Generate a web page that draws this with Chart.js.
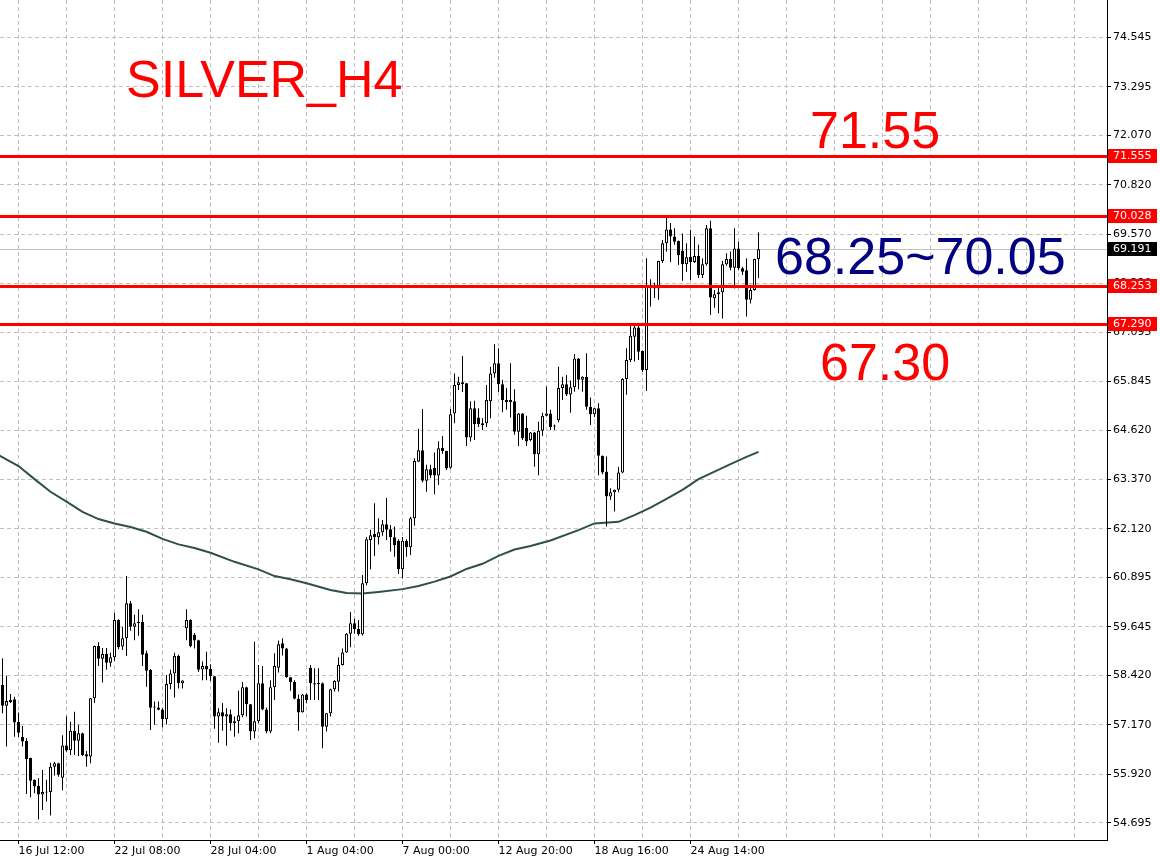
<!DOCTYPE html>
<html lang="en">
<head>
<meta charset="UTF-8">
<title>SILVER_H4</title>
<script src="https://cdn.jsdelivr.net/npm/chart.js"></script>
<style>
  html, body { margin: 0; padding: 0; background: #fff; }
  #wrap { width: 1160px; height: 861px; }
</style>
</head>
<body>
<div id="wrap"><canvas id="chart" width="1160" height="861"></canvas></div>
<script>
// H4 candles (one per bar, oldest first)
const open = [58.18,57.65,57.80,57.82,57.24,56.86,56.76,56.33,55.78,55.63,55.41,55.47,55.47,56.11,56.20,55.83,56.65,56.53,57.02,56.77,
  56.96,56.43,56.37,57.84,59.16,58.84,58.96,58.74,58.88,59.82,59.15,59.36,60.24,59.65,59.77,59.77,58.98,58.56,57.61,57.61,
  57.56,57.31,58.20,58.47,58.91,58.22,59.61,59.82,59.44,59.31,58.57,58.66,58.58,58.40,57.38,57.49,57.38,57.44,57.21,57.26,
  57.41,58.12,57.69,57.00,57.26,58.22,57.56,57.00,58.12,58.61,59.23,59.10,58.37,58.25,57.83,57.49,57.94,58.61,58.22,58.21,
  58.22,57.12,57.46,58.07,58.26,58.68,59.00,59.47,59.74,59.59,59.46,60.75,61.84,61.99,61.91,62.04,62.24,62.11,61.91,61.82,
  61.10,61.82,61.66,62.39,63.82,64.11,63.34,63.63,63.67,63.47,64.17,64.09,63.67,65.04,65.76,65.83,65.80,64.43,65.17,64.94,
  64.79,64.79,65.35,66.05,66.31,65.78,65.38,65.32,65.35,64.58,65.04,64.67,64.37,64.56,64.01,64.60,64.98,65.04,64.72,64.87,
  65.68,65.78,65.52,65.70,66.43,65.89,65.97,65.21,65.02,65.17,63.97,63.57,62.94,63.05,63.11,63.55,65.91,66.39,66.98,67.21,
  66.62,66.14,68.26,68.26,68.20,68.89,69.34,69.69,69.51,69.40,69.15,68.81,69.00,68.87,69.02,68.54,68.81,69.72,67.95,68.05,
  68.10,68.81,68.94,68.72,69.21,68.71,68.66,67.91,68.16,68.94];
const high = [58.85,58.41,57.95,57.88,57.48,57.14,56.83,56.34,55.79,55.82,56.03,55.78,56.21,56.24,56.21,56.91,57.39,57.25,57.50,57.17,
  56.97,56.51,57.85,59.17,59.26,59.11,59.11,58.99,60.00,59.84,59.64,60.93,60.30,59.95,60.09,59.95,59.04,58.58,57.76,57.76,
  57.59,58.43,58.56,58.99,58.94,58.30,60.09,59.84,59.49,59.32,58.77,59.02,58.70,58.41,57.59,57.72,57.59,57.56,57.38,58.03,
  58.25,58.13,57.70,59.27,58.68,58.66,57.61,58.30,58.98,59.30,59.36,59.11,58.38,58.30,57.94,57.95,57.97,58.68,58.60,58.60,
  58.24,57.47,58.08,58.30,58.88,59.10,59.49,60.02,59.86,59.82,60.96,61.92,62.10,62.77,62.39,62.35,62.90,62.22,62.18,61.86,
  61.92,61.86,62.43,63.91,64.65,65.15,63.74,63.74,64.05,64.34,64.47,64.10,65.15,66.05,65.97,66.49,65.81,65.35,65.36,65.17,
  64.92,65.76,66.22,66.79,66.69,65.89,65.68,66.31,65.65,65.05,65.05,64.98,64.57,64.57,64.83,65.06,65.72,65.13,64.76,66.22,
  65.97,66.01,65.87,66.54,66.44,65.98,66.56,65.44,65.18,65.30,63.98,63.95,63.15,63.12,63.69,65.93,66.69,67.25,67.27,67.27,
  66.63,68.96,68.43,68.34,68.90,69.42,70.01,69.85,69.72,69.41,69.59,69.34,69.68,69.51,69.30,68.96,69.80,69.91,68.16,68.24,
  68.89,69.09,69.13,69.72,69.38,68.75,68.96,68.29,68.95,69.62];
const low = [57.46,56.62,57.72,56.87,56.86,56.62,55.42,55.34,55.44,54.78,55.02,55.23,54.88,55.89,55.86,55.52,56.49,56.41,56.41,56.38,
  56.38,56.11,56.20,57.72,58.66,58.24,58.56,58.64,58.79,59.08,59.06,58.91,59.55,59.31,59.42,58.66,58.13,57.04,57.17,57.54,
  57.10,57.18,58.07,57.86,58.09,58.09,59.31,59.13,59.10,58.51,58.30,58.30,58.28,57.07,56.72,57.02,56.64,57.02,56.87,56.96,
  57.36,57.38,56.79,56.83,57.21,57.54,56.96,56.96,57.80,58.49,58.92,58.36,58.03,57.82,57.02,57.48,57.72,57.80,57.80,57.80,
  56.58,57.00,57.38,58.01,58.01,58.67,58.99,59.13,59.48,59.42,59.42,60.70,61.10,61.44,61.73,61.95,61.84,61.55,61.42,60.98,
  60.87,61.42,61.46,62.20,63.81,63.30,63.06,63.41,63.00,63.23,64.02,63.61,63.64,64.79,65.63,65.58,64.22,64.33,64.37,64.70,
  64.62,64.70,64.92,65.94,65.58,65.07,65.13,64.94,64.50,64.22,64.37,64.22,64.34,63.69,63.48,64.47,64.97,64.62,64.62,64.82,
  65.38,65.48,65.06,65.59,65.65,65.59,65.13,64.75,64.95,63.48,63.50,62.18,62.85,62.56,63.05,63.53,65.51,66.34,66.35,66.39,
  66.09,65.61,67.74,67.96,67.91,68.84,69.13,68.87,69.30,68.79,68.39,68.62,68.41,68.84,68.46,68.46,68.77,67.53,67.71,67.57,
  67.44,68.77,68.66,68.20,68.66,68.54,67.49,67.82,68.14,68.46];
const close = [57.65,57.77,57.74,57.23,56.97,56.75,56.30,55.76,55.61,55.41,55.47,55.46,56.11,56.20,55.91,56.65,56.52,57.02,56.77,56.96,
  56.41,56.37,57.84,59.16,58.84,58.96,58.74,58.88,59.82,59.13,59.36,60.24,59.65,59.74,59.74,58.94,58.54,57.60,57.61,57.55,
  57.31,58.20,58.47,58.91,58.22,58.29,59.82,59.16,59.30,58.56,58.66,58.57,58.40,57.38,57.49,57.38,57.44,57.21,57.26,57.41,
  58.12,57.69,57.00,57.26,58.22,57.56,57.00,58.12,58.66,59.21,59.10,58.37,58.25,57.83,57.48,57.94,57.80,58.22,58.19,58.20,
  57.12,57.46,58.07,58.28,58.68,59.00,59.47,59.74,59.59,59.46,60.75,61.86,61.96,61.91,62.04,62.24,62.10,61.91,61.71,61.10,
  61.82,61.66,62.39,63.84,64.11,63.34,63.63,63.47,63.47,64.16,64.09,63.65,65.02,65.76,65.83,65.78,64.43,65.17,64.77,64.77,
  64.75,65.38,66.05,66.31,65.78,65.38,65.33,65.38,64.58,65.04,64.41,64.33,64.56,64.01,64.60,64.98,65.04,64.70,64.71,65.68,
  65.78,65.52,65.70,66.43,65.89,65.97,65.21,65.02,65.17,63.97,63.55,62.94,63.05,63.11,63.55,65.91,66.39,67.00,67.21,66.60,
  66.14,68.26,68.22,68.20,68.89,69.34,69.69,69.51,69.38,69.04,68.81,68.99,68.87,69.02,68.54,68.81,69.72,67.97,68.05,68.10,
  68.81,68.94,68.72,69.21,68.71,68.62,67.91,68.16,68.94,69.19];

// moving average, sampled along the drawn curve (bar index -> price)
const maIdx = [-1,4,8,12,16,20,24,28,32,36,40,44,48,52,58,64,68,72,76,82,86,90,94,100,104,108,112,116,120,124,128,132,137,144,148,154,158,162,166,170,174,178,182,186,189];
const maVal = [63.99,63.71,63.38,63.06,62.81,62.55,62.37,62.26,62.17,62.05,61.87,61.73,61.64,61.52,61.29,61.10,60.93,60.85,60.75,60.58,60.50,60.49,60.53,60.60,60.68,60.79,60.92,61.11,61.24,61.44,61.60,61.69,61.83,62.09,62.26,62.30,62.47,62.66,62.88,63.11,63.38,63.57,63.76,63.94,64.07];

// axes
const xGridIdx = [4,16,28,40,52,64,76,88,100,112,124,136,148,160,172,184,196,208,220,232,244,256,268];
const xLabelIdx = [4,28,52,76,100,124,148,172];
const xLabels = ['16 Jul 12:00','22 Jul 08:00','28 Jul 04:00','1 Aug 04:00','7 Aug 00:00','12 Aug 20:00','18 Aug 16:00','24 Aug 14:00'];
const yTicks = [74.545,73.295,72.070,70.820,69.570,68.320,67.095,65.845,64.620,63.370,62.120,60.895,59.645,58.420,57.170,55.920,54.695];

// horizontal levels
const levels = [71.555, 70.028, 68.253, 67.290];
const lastPrice = 69.191;

const idx = open.map((_, i) => i);
const up = idx.map(i => close[i] >= open[i]);
const axisFont = { family: 'DejaVu Sans', size: 11 };
const bigFont = '52px "Liberation Sans", Arial, sans-serif';

const overlay = {
  id: 'overlay',
  beforeDatasetsDraw(chart) {
    const { ctx, chartArea: a, scales: { y } } = chart;
    const py = Math.round(y.getPixelForValue(lastPrice)) + 0.5;
    ctx.save();
    ctx.strokeStyle = '#c0c0c0';
    ctx.lineWidth = 1;
    ctx.beginPath();
    ctx.moveTo(a.left, py);
    ctx.lineTo(a.right, py);
    ctx.stroke();
    ctx.restore();
  },
  afterDatasetsDraw(chart) {
    const { ctx, chartArea: a, scales: { y } } = chart;
    ctx.save();
    ctx.fillStyle = '#ff0000';
    levels.forEach(v => {
      const py = Math.round(y.getPixelForValue(v));
      ctx.fillRect(a.left, py - 1, a.right - a.left, 3);
    });
    ctx.font = bigFont;
    ctx.textAlign = 'left';
    ctx.textBaseline = 'alphabetic';
    ctx.fillText('SILVER_H4', 126, 97);
    ctx.fillText('71.55', 810, 148);
    ctx.fillText('67.30', 820, 380);
    ctx.fillStyle = '#000080';
    ctx.fillText('68.25~70.05', 775, 274);
    ctx.restore();
  },
  afterDraw(chart) {
    const { ctx, chartArea: a, scales: { y } } = chart;
    ctx.save();
    ctx.font = '11px "DejaVu Sans"';
    ctx.textAlign = 'left';
    ctx.textBaseline = 'middle';
    const box = (v, bg) => {
      const py = Math.round(y.getPixelForValue(v));
      ctx.fillStyle = bg;
      ctx.fillRect(a.right + 1, py - 7, 49, 14);
      ctx.fillStyle = '#fff';
      ctx.fillText(v.toFixed(3), a.right + 6, py + 0.5);
    };
    levels.forEach(v => box(v, '#ff0000'));
    box(lastPrice, '#000');
    ctx.restore();
  }
};

new Chart(document.getElementById('chart'), {
  type: 'bar',
  data: {
    datasets: [
      {
        type: 'line',
        label: 'MA',
        data: maIdx.map((x, k) => ({ x, y: maVal[k] })),
        borderColor: '#2f4f4f',
        borderWidth: 2,
        pointRadius: 0,
        tension: 0,
        order: 3
      },
      {
        label: 'wick',
        data: idx.map(i => ({ x: i, y: [low[i], high[i]] })),
        backgroundColor: '#000',
        barThickness: 1,
        inflateAmount: 0,
        grouped: false,
        order: 2
      },
      {
        label: 'body',
        data: idx.map(i => ({ x: i, y: [open[i], close[i]] })),
        backgroundColor: up.map(u => u ? '#fff' : '#000'),
        borderColor: '#000',
        borderWidth: 1,
        borderSkipped: false,
        barThickness: 3,
        minBarLength: 1,
        inflateAmount: 0,
        grouped: false,
        order: 1
      }
    ]
  },
  options: {
    responsive: false,
    animation: false,
    devicePixelRatio: 1,
    layout: { padding: 0 },
    plugins: { legend: { display: false }, tooltip: { enabled: false } },
    scales: {
      x: {
        type: 'linear',
        min: -0.625,
        max: 276.125,
        bounds: 'data',
        offset: false,
        afterBuildTicks: s => { s.ticks = xGridIdx.map(v => ({ value: v })); },
        afterFit: s => { s.height = 21; s.paddingLeft = 0; s.paddingRight = 0; },
        grid: {
          color: '#c0c0c0',
          offset: false,
          tickLength: 4,
          tickColor: c => (c.tick && xLabelIdx.includes(c.tick.value)) ? '#000' : 'rgba(0,0,0,0)'
        },
        border: { color: '#000', width: 1, dash: [4, 3] },
        ticks: {
          autoSkip: false,
          maxRotation: 0,
          minRotation: 0,
          align: 'start',
          padding: 1,
          color: '#000',
          font: axisFont,
          callback: v => { const k = xLabelIdx.indexOf(v); return k >= 0 ? xLabels[k] : ''; }
        }
      },
      y: {
        position: 'right',
        min: 54.26,
        max: 75.488,
        bounds: 'data',
        beginAtZero: false,
        afterBuildTicks: s => { s.ticks = yTicks.map(v => ({ value: v })); },
        afterFit: s => { s.width = 53; s.paddingTop = 0; s.paddingBottom = 0; },
        grid: { color: '#c0c0c0', tickLength: 4, tickColor: '#000' },
        border: { color: '#000', width: 1, dash: [4, 3] },
        ticks: {
          padding: 2,
          color: '#000',
          font: axisFont,
          callback: v => v.toFixed(3)
        }
      }
    }
  },
  plugins: [overlay]
});
</script>
</body>
</html>
